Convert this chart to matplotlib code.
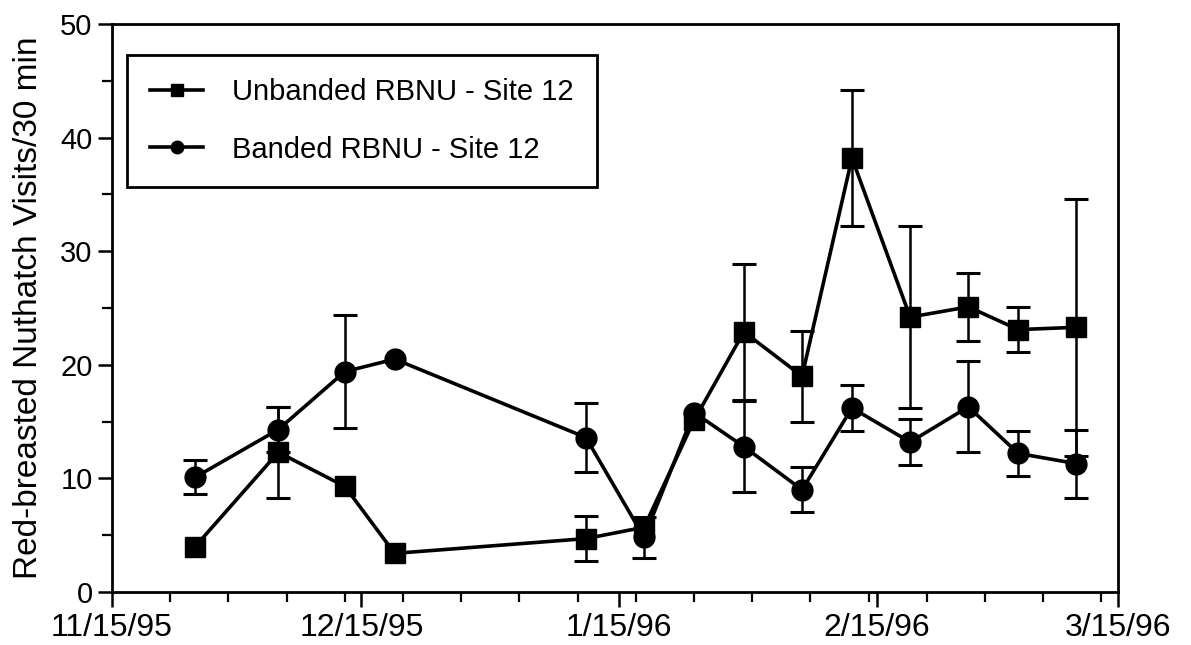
import numpy as np
import pandas as pd
import matplotlib
matplotlib.use("Agg")
import matplotlib.pyplot as plt

plt.rcParams["font.family"] = ["Liberation Sans", "DejaVu Sans"]

# visit dates (same for both series)
dates = ["11/25/95", "12/05/95", "12/13/95", "12/19/95", "01/11/96", "01/18/96",
         "01/24/96", "01/30/96", "02/06/96", "02/12/96", "02/19/96", "02/26/96",
         "03/03/96", "03/10/96"]

unbanded = [4.0, 12.3, 9.3, 3.4, 4.7, 5.7, 15.1, 22.9, 19.0, 38.2, 24.2, 25.1, 23.1, 23.3]
unbanded_err = [0, 4.0, 0, 0, 2.0, 0, 0, 6.0, 4.0, 6.0, 8.0, 3.0, 2.0, 11.3]

banded = [10.1, 14.3, 19.4, 20.5, 13.6, 4.8, 15.8, 12.8, 9.0, 16.2, 13.2, 16.3, 12.2, 11.3]
banded_err = [1.5, 2.0, 5.0, 0, 3.0, 1.8, 0, 4.0, 2.0, 2.0, 2.0, 4.0, 2.0, 3.0]

tick_labels = ["11/15/95", "12/15/95", "1/15/96", "2/15/96", "3/15/96"]
y_ticks = [0, 10, 20, 30, 40, 50]

x = pd.to_datetime(dates, format="%m/%d/%y")
major = pd.to_datetime(tick_labels, format="%m/%d/%y")
minor = pd.date_range(major[0], major[-1], freq="7D")

W, H = 1191, 645
fig = plt.figure(figsize=(W / 100, H / 100), dpi=100)
ax = fig.add_axes([112 / W, 1 - 592 / H, (1118 - 112) / W, (592 - 24) / H])

series = [
    (unbanded, unbanded_err, "s", 15, "Unbanded RBNU - Site 12"),
    (banded, banded_err, "o", 15, "Banded RBNU - Site 12"),
]
for vals, err, mk, ms, lab in series:
    vals = np.array(vals)
    err = np.array(err)
    has = err > 0
    ax.errorbar(x[has], vals[has], yerr=err[has], fmt="none", ecolor="black",
                elinewidth=1.8, capsize=8.5, capthick=2.2, zorder=2)
    ax.plot(x, vals, color="black", lw=2.6, marker=mk, ms=ms,
            mfc="black", mec="black", label=lab, zorder=3)

ax.set_xlim(major[0], major[-1])
ax.set_ylim(0, 50)
ax.set_xticks(major)
ax.set_xticklabels(tick_labels, fontsize=23)
ax.set_xticks(minor, minor=True)
ax.set_yticks(y_ticks)
ax.set_yticklabels([str(v) for v in y_ticks], fontsize=21)
ax.set_yticks(np.arange(5, 50, 10), minor=True)

ax.tick_params(axis="both", which="major", direction="out", width=1.8, color="black")
ax.tick_params(axis="x", which="major", length=11, pad=4)
ax.tick_params(axis="y", which="major", length=10, pad=4)
ax.tick_params(axis="both", which="minor", direction="out", width=1.6, length=7)
for sp in ax.spines.values():
    sp.set_linewidth(2.0)
    sp.set_color("black")

ax.set_ylabel("Red-breasted Nuthatch Visits/30 min", fontsize=24)
ax.yaxis.set_label_coords((44 - 112) / 1006, 0.5)

leg = ax.legend(loc="upper left", bbox_to_anchor=(127 / W, 1 - 55 / H),
                bbox_transform=fig.transFigure, fontsize=21, frameon=True,
                fancybox=False, edgecolor="black", framealpha=1,
                handlelength=1.8, handletextpad=1.0, labelspacing=1.0,
                borderpad=0.8, borderaxespad=0, markerscale=0.6)
leg.get_frame().set_linewidth(2.0)

fig.savefig("out.png", dpi=100, facecolor="white")
